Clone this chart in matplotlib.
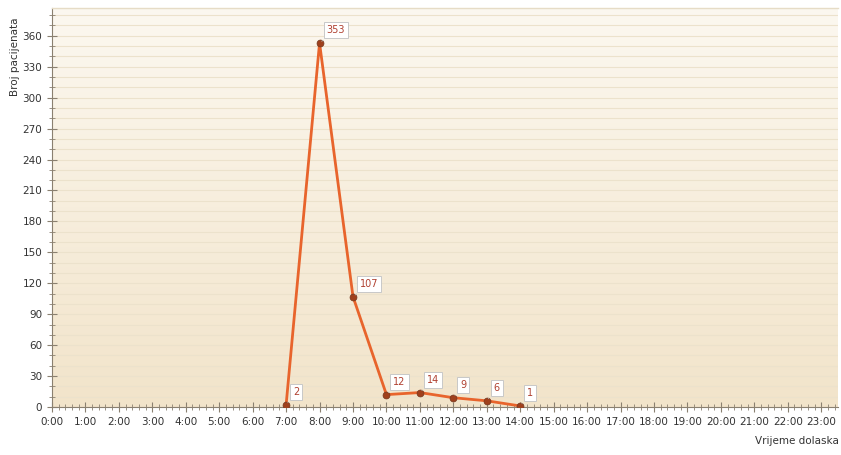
import matplotlib.pyplot as plt
import numpy as np
from matplotlib.ticker import MultipleLocator

hours = [7, 8, 9, 10, 11, 12, 13, 14]
patients = [2, 353, 107, 12, 14, 9, 6, 1]
hour_labels = ["%d:00" % h for h in range(24)]

fig = plt.figure(figsize=(8.41, 4.55), dpi=100)
ax = fig.add_axes([0.0618, 0.1055, 0.9346, 0.877])

# pozadina s gradijentom
grad = np.linspace(0, 1, 256).reshape(-1, 1)
top = np.array([252, 248, 240]) / 255
bot = np.array([242, 228, 202]) / 255
img = top * (1 - grad[..., None]) + bot * grad[..., None]
img = np.repeat(img, 2, axis=1)
ax.imshow(img, extent=[0, 23.5, 0, 387], aspect="auto", zorder=0, origin="upper")

ax.set_xlim(0, 23.5)
ax.set_ylim(0, 387)

ax.yaxis.set_major_locator(MultipleLocator(30))
ax.yaxis.set_minor_locator(MultipleLocator(10))
ax.set_xticks(range(24))
ax.set_xticklabels(hour_labels)
ax.xaxis.set_minor_locator(MultipleLocator(0.2))
ax.grid(True, which="both", axis="y", color="#ece2cc", linewidth=0.8, zorder=1)

ax.spines["right"].set_visible(False)
ax.spines["top"].set_color("#e6dcc6")
ax.spines["top"].set_linewidth(1)
for s in ["left", "bottom"]:
    ax.spines[s].set_color("#8a8070")
    ax.spines[s].set_linewidth(0.8)
ax.tick_params(which="major", direction="inout", length=7, color="#8a8070",
               labelsize=7.5, labelcolor="#333333")
ax.tick_params(which="minor", direction="inout", length=4, color="#8a8070")

ax.plot(hours, patients, color="#e8642c", linewidth=2, zorder=3)
ax.scatter(hours, patients, s=24, color="#a0401c", edgecolor="#7a3a20",
           linewidth=0.6, zorder=4)

for h, v in zip(hours, patients):
    ax.annotate(str(v), (h, v), xytext=(5, 7), textcoords="offset points",
                fontsize=7, color="#b04030", zorder=5,
                bbox=dict(boxstyle="square,pad=0.3", fc="white", ec="#c8c8c8", lw=0.7),
                arrowprops=dict(arrowstyle="-", color="#bbbbbb", lw=0.6))

fig.text(0.018, 0.875, "Broj pacijenata", rotation=90, fontsize=7.5, color="#333333",
         ha="center", va="center")
fig.text(0.997, 0.02, "Vrijeme dolaska", fontsize=7.5, color="#333333", ha="right", va="bottom")

fig.savefig("out.png", dpi=100)
